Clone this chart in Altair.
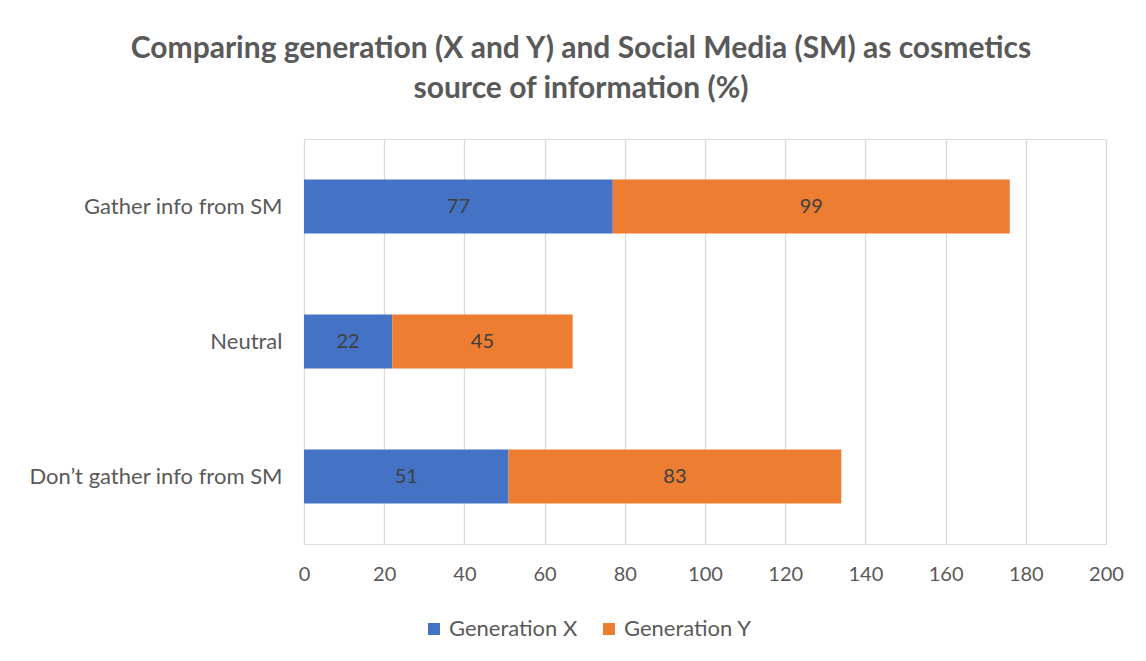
import altair as alt
import pandas as pd

categories = ["Gather info from SM", "Neutral", "Don\u2019t gather info from SM"]
series = ["Generation X", "Generation Y"]
gen_x = [77, 22, 51]
gen_y = [99, 45, 83]
x_ticks = [0, 20, 40, 60, 80, 100, 120, 140, 160, 180, 200]

rows = []
for i, c in enumerate(categories):
    rows.append({"cat": c, "series": series[0], "value": gen_x[i], "ord": 0})
    rows.append({"cat": c, "series": series[1], "value": gen_y[i], "ord": 1})
df = pd.DataFrame(rows)

FONT = "Lato"
GREY = "#595959"
W, H = 802, 405

base = alt.Chart(df).transform_stack(
    stack="value", groupby=["cat"], as_=["x0", "x1"],
    sort=[alt.SortField("ord", order="ascending")]
).transform_calculate(mid="(datum.x0 + datum.x1) / 2")

yenc = alt.Y("cat:N", sort=categories, title=None,
             scale=alt.Scale(paddingInner=0.6, paddingOuter=0.3),
             axis=alt.Axis(labelFontSize=22, labelColor=GREY, labelFont=FONT,
                           ticks=False, domain=False, labelPadding=22,
                           minExtent=291, maxExtent=291, labelLimit=400))

bars = base.mark_bar().encode(
    x=alt.X("x0:Q", title=None,
            scale=alt.Scale(domain=[0, 200], nice=False),
            axis=alt.Axis(values=x_ticks, labelFontSize=20, labelColor=GREY,
                          labelFont=FONT, ticks=False, domain=False, labelFlush=False,
                          labelPadding=20, gridColor="#d9d9d9", gridWidth=1.3)),
    x2="x1:Q",
    y=yenc,
    color=alt.Color("series:N", sort=series,
                    scale=alt.Scale(domain=series, range=["#4472C4", "#ED7D31"]),
                    legend=alt.Legend(title=None, orient="none", direction="horizontal",
                                      legendX=119, legendY=479, symbolType="square",
                                      symbolSize=144, symbolStrokeWidth=0,
                                      labelFontSize=22, labelColor=GREY, labelFont=FONT,
                                      columnPadding=20, labelOffset=4, padding=0)),
    order=alt.Order("ord:Q"),
)

labels = base.mark_text(fontSize=20, color="#404040", font=FONT).encode(
    x=alt.X("mid:Q"),
    y=alt.Y("cat:N", sort=categories),
    text=alt.Text("value:Q"),
)

chart = alt.layer(bars, labels).properties(
    width=W, height=H,
    title=alt.Title(
        ["Comparing generation (X and Y) and Social Media (SM) as cosmetics",
         "source of information (%)"],
        fontSize=30, font=FONT, fontWeight="bold", color=GREY,
        lineHeight=40, offset=35, anchor="middle", dx=-124),
    padding={"left": 5, "top": 26, "right": 5, "bottom": 5},
).configure_view(stroke=None).configure(background="white")

chart.save("out.html", embed_options={"renderer": "svg", "actions": False})
